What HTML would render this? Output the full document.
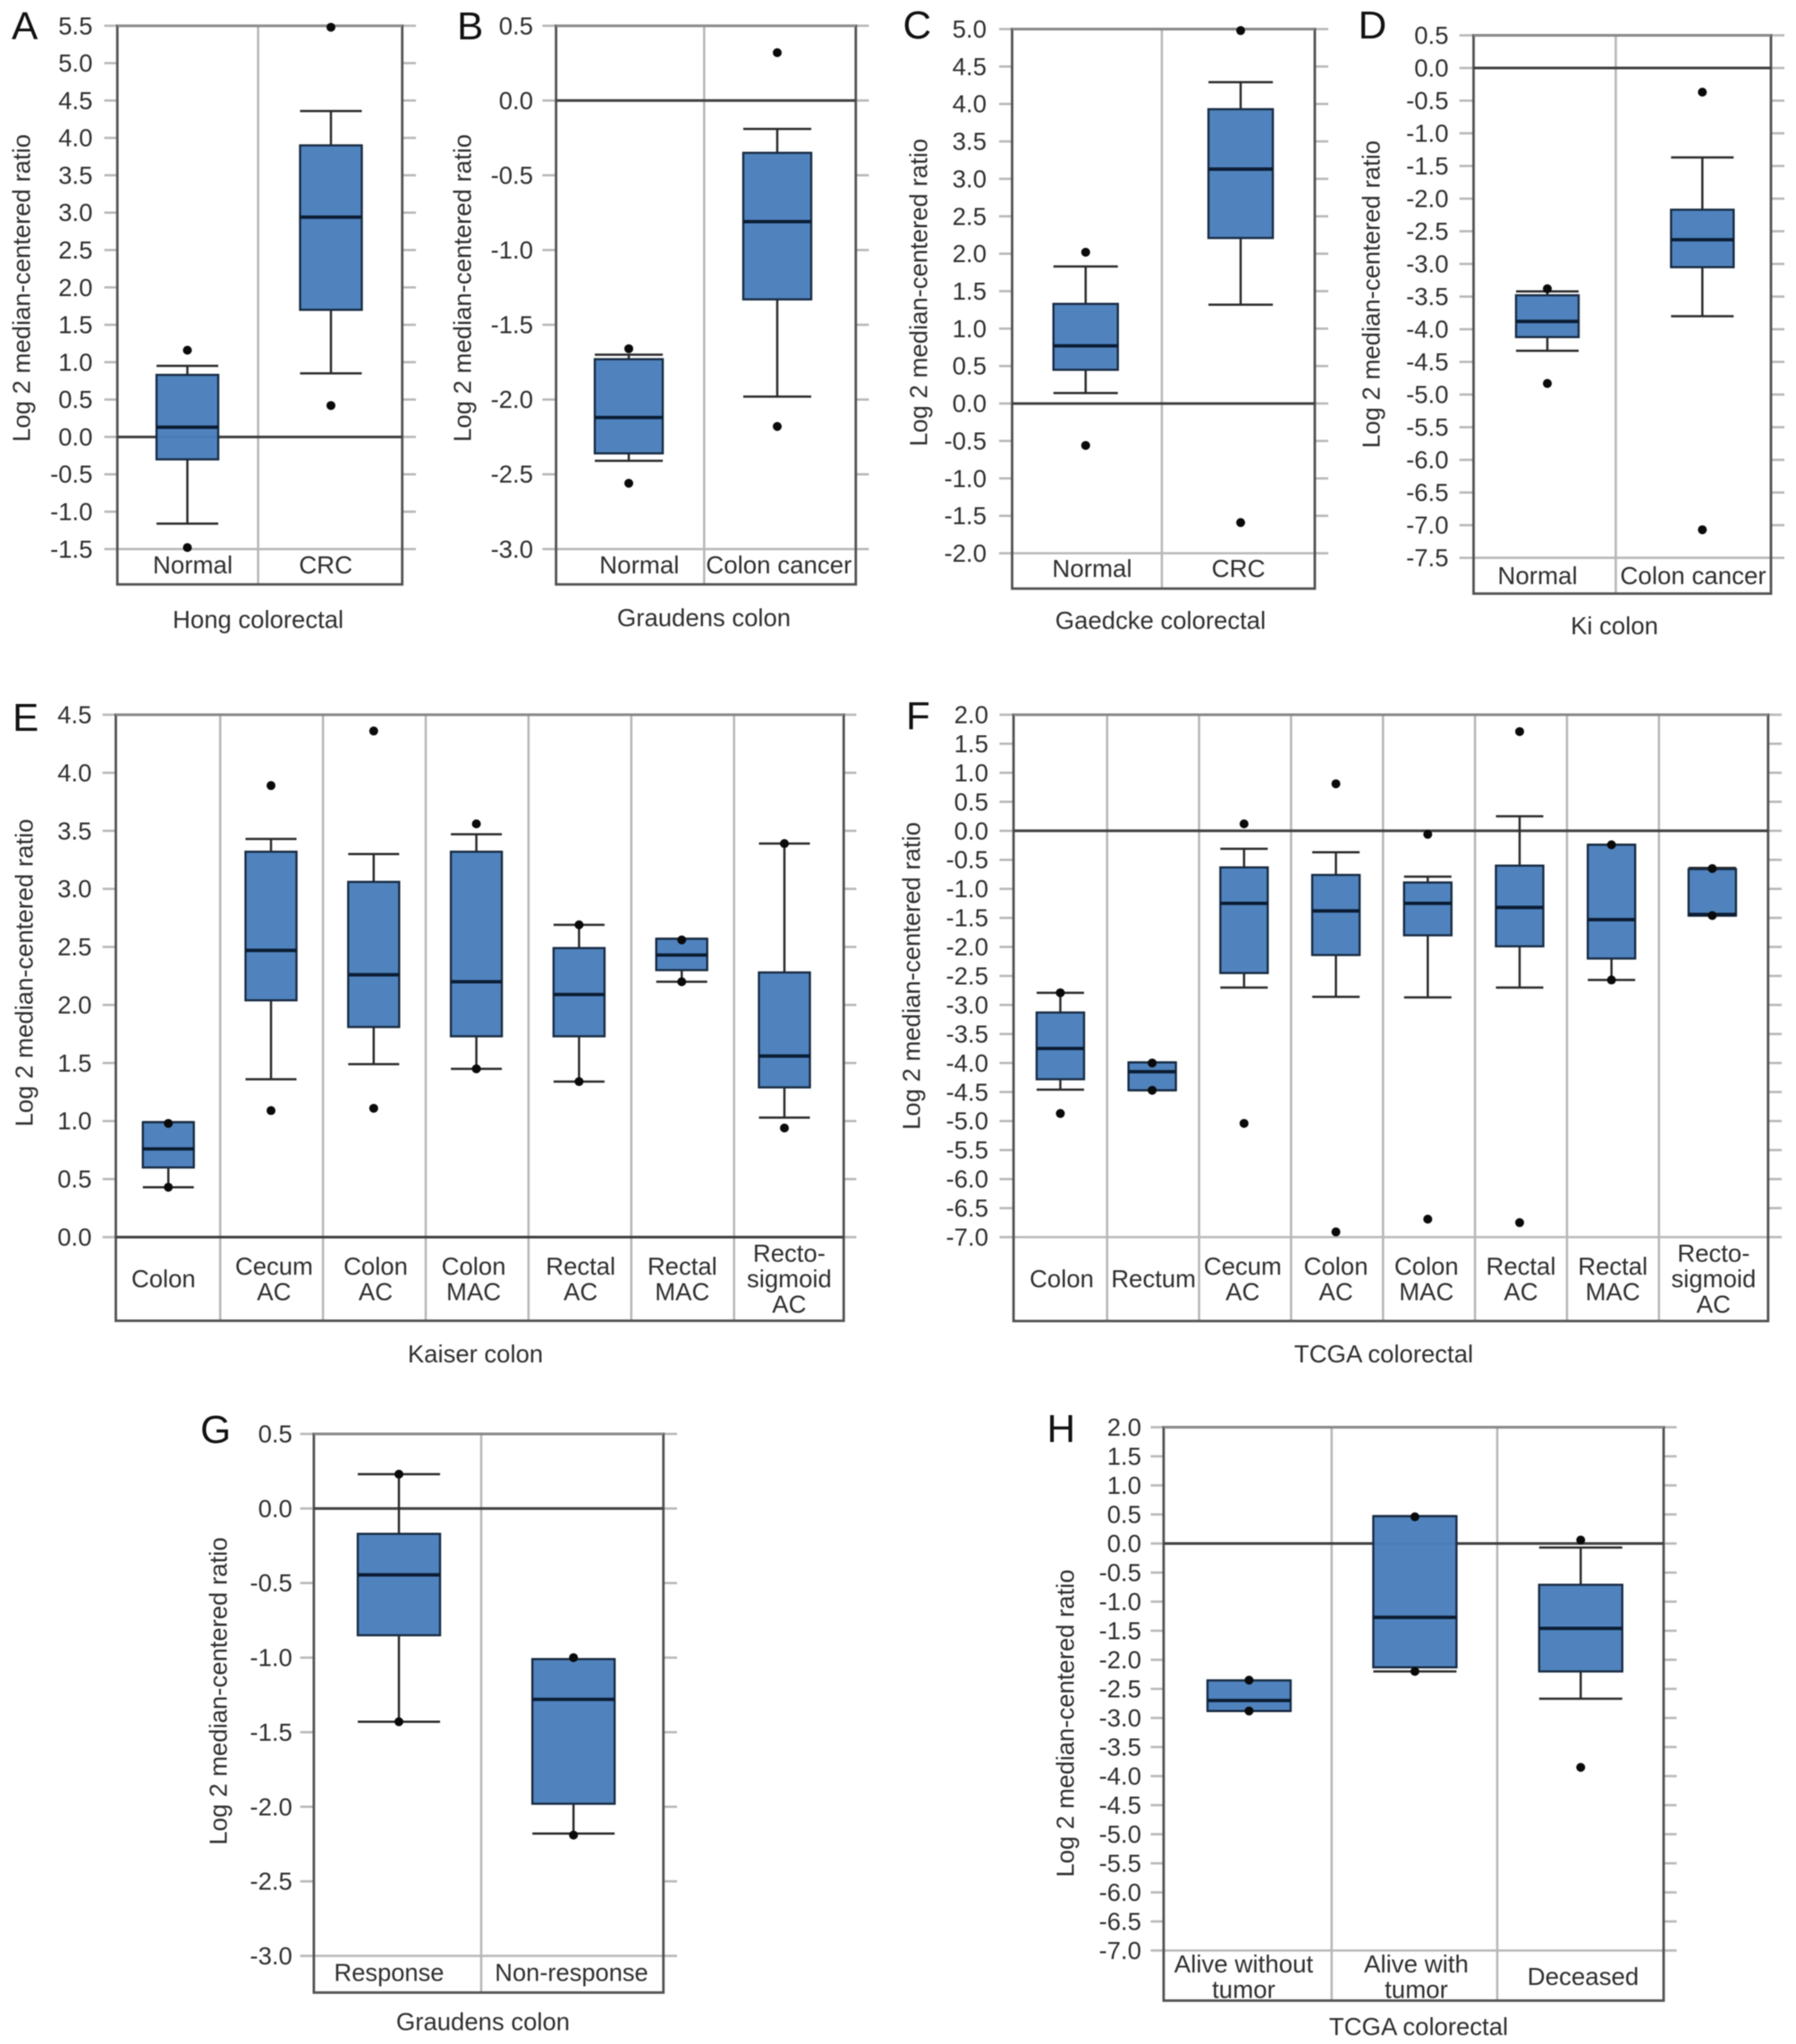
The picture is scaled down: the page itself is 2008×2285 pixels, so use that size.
<!DOCTYPE html>
<html lang="en">
<head>
<meta charset="utf-8">
<title>Log 2 median-centered ratio box plots</title>
<style>
html,body{margin:0;padding:0;background:#fff;}
#figure{display:block;width:2008px;height:2285px;background:#fff;font-family:"Liberation Sans",Arial,sans-serif;filter:blur(0.5px);}
</style>
</head>
<body>
<svg id="figure" xmlns="http://www.w3.org/2000/svg" width="2008" height="2285" viewBox="0 0 2008 2285"></svg>
<script>
// ---------- Panel A ----------
const panelACategories = [['Normal'], ['CRC']];
const panelATicks = ['5.5','5.0','4.5','4.0','3.5','3.0','2.5','2.0','1.5','1.0','0.5','0.0','-0.5','-1.0','-1.5'];
const panelAWhiskerHigh = [0.95, 4.36];
const panelAQ3 = [0.83, 3.90];
const panelAMedian = [0.13, 2.94];
const panelAQ1 = [-0.30, 1.70];
const panelAWhiskerLow = [-1.16, 0.85];
const panelAOutlierHigh = [1.16, 5.48];
const panelAOutlierLow = [-1.48, 0.42];
// ---------- Panel B ----------
const panelBCategories = [['Normal'], ['Colon cancer']];
const panelBTicks = ['0.5','0.0','-0.5','-1.0','-1.5','-2.0','-2.5','-3.0'];
const panelBWhiskerHigh = [-1.70, -0.19];
const panelBQ3 = [-1.73, -0.35];
const panelBMedian = [-2.12, -0.81];
const panelBQ1 = [-2.36, -1.33];
const panelBWhiskerLow = [-2.41, -1.98];
const panelBOutlierHigh = [-1.66, 0.32];
const panelBOutlierLow = [-2.56, -2.18];
// ---------- Panel C ----------
const panelCCategories = [['Normal'], ['CRC']];
const panelCTicks = ['5.0','4.5','4.0','3.5','3.0','2.5','2.0','1.5','1.0','0.5','0.0','-0.5','-1.0','-1.5','-2.0'];
const panelCWhiskerHigh = [1.83, 4.29];
const panelCQ3 = [1.33, 3.93];
const panelCMedian = [0.77, 3.13];
const panelCQ1 = [0.45, 2.21];
const panelCWhiskerLow = [0.14, 1.32];
const panelCOutlierHigh = [2.02, 4.98];
const panelCOutlierLow = [-0.56, -1.59];
// ---------- Panel D ----------
const panelDCategories = [['Normal'], ['Colon cancer']];
const panelDTicks = ['0.5','0.0','-0.5','-1.0','-1.5','-2.0','-2.5','-3.0','-3.5','-4.0','-4.5','-5.0','-5.5','-6.0','-6.5','-7.0','-7.5'];
const panelDWhiskerHigh = [-3.42, -1.37];
const panelDQ3 = [-3.48, -2.17];
const panelDMedian = [-3.88, -2.63];
const panelDQ1 = [-4.12, -3.05];
const panelDWhiskerLow = [-4.33, -3.80];
const panelDOutlierHigh = [-3.38, -0.37];
const panelDOutlierLow = [-4.83, -7.07];
// ---------- Panel E ----------
const panelECategories = [['Colon'], ['Cecum','AC'], ['Colon','AC'], ['Colon','MAC'], ['Rectal','AC'], ['Rectal','MAC'], ['Recto-','sigmoid','AC']];
const panelETicks = ['4.5','4.0','3.5','3.0','2.5','2.0','1.5','1.0','0.5','0.0'];
const panelEWhiskerHigh = [0.99, 3.43, 3.30, 3.47, 2.69, 2.57, 3.39];
const panelEQ3 = [0.99, 3.32, 3.06, 3.32, 2.49, 2.57, 2.28];
const panelEMedian = [0.76, 2.47, 2.26, 2.20, 2.09, 2.43, 1.56];
const panelEQ1 = [0.60, 2.04, 1.81, 1.73, 1.73, 2.30, 1.29];
const panelEWhiskerLow = [0.43, 1.36, 1.49, 1.45, 1.34, 2.20, 1.03];
const panelEOutlierHigh = [0.98, 3.89, 4.36, 3.56, 2.69, 2.56, 3.39];
const panelEOutlierLow = [0.43, 1.09, 1.11, 1.45, 1.34, 2.20, 0.94];
// ---------- Panel F ----------
const panelFCategories = [['Colon'], ['Rectum'], ['Cecum','AC'], ['Colon','AC'], ['Colon','MAC'], ['Rectal','AC'], ['Rectal','MAC'], ['Recto-','sigmoid','AC']];
const panelFTicks = ['2.0','1.5','1.0','0.5','0.0','-0.5','-1.0','-1.5','-2.0','-2.5','-3.0','-3.5','-4.0','-4.5','-5.0','-5.5','-6.0','-6.5','-7.0'];
const panelFWhiskerHigh = [-2.79, -3.99, -0.31, -0.37, -0.79, 0.25, -0.24, -0.64];
const panelFQ3 = [-3.13, -3.99, -0.63, -0.76, -0.89, -0.60, -0.24, -0.66];
const panelFMedian = [-3.75, -4.15, -1.25, -1.38, -1.25, -1.32, -1.53, -1.44];
const panelFQ1 = [-4.28, -4.47, -2.45, -2.14, -1.80, -1.99, -2.20, -1.46];
const panelFWhiskerLow = [-4.46, -4.47, -2.70, -2.86, -2.87, -2.70, -2.57, -1.46];
const panelFOutlierHigh = [-2.79, -4.00, 0.12, 0.81, -0.06, 1.71, -0.24, -0.65];
const panelFOutlierLow = [-4.87, -4.47, -5.04, -6.91, -6.69, -6.75, -2.57, -1.46];
// ---------- Panel G ----------
const panelGCategories = [['Response'], ['Non-response']];
const panelGTicks = ['0.5','0.0','-0.5','-1.0','-1.5','-2.0','-2.5','-3.0'];
const panelGWhiskerHigh = [0.23, -1.01];
const panelGQ3 = [-0.17, -1.01];
const panelGMedian = [-0.445, -1.28];
const panelGQ1 = [-0.85, -1.98];
const panelGWhiskerLow = [-1.43, -2.18];
const panelGOutlierHigh = [0.23, -1.00];
const panelGOutlierLow = [-1.43, -2.19];
// ---------- Panel H ----------
const panelHCategories = [['Alive without','tumor'], ['Alive with','tumor'], ['Deceased']];
const panelHTicks = ['2.0','1.5','1.0','0.5','0.0','-0.5','-1.0','-1.5','-2.0','-2.5','-3.0','-3.5','-4.0','-4.5','-5.0','-5.5','-6.0','-6.5','-7.0'];
const panelHWhiskerHigh = [-2.355, 0.47, -0.07];
const panelHQ3 = [-2.355, 0.47, -0.71];
const panelHMedian = [-2.70, -1.27, -1.46];
const panelHQ1 = [-2.88, -2.13, -2.20];
const panelHWhiskerLow = [-2.88, -2.20, -2.67];
const panelHOutlierHigh = [-2.35, 0.46, 0.06];
const panelHOutlierLow = [-2.88, -2.20, -3.85];

const yAxisTitleText = 'Log 2 median-centered ratio';

const panels = [
  { letter:'A', dataset:'Hong colorectal', cats:panelACategories, ticks:panelATicks, hi:panelAWhiskerHigh, q3:panelAQ3, med:panelAMedian, q1:panelAQ1, lo:panelAWhiskerLow, outHi:panelAOutlierHigh, outLo:panelAOutlierLow,
    left:131.2, right:449.7, top:28.8, tickBottom:613.8, bottom:653.3, tickFrom:116.6, tickTo:465, labelRight:103.5,
    divStart:288.6, divStep:157.4, xStart:209.5, xStep:160.5, xNudgeLast:0, boxW:69,
    catStart:215.5, catStep:148.7, catShift:{}, catBase:641, catSize:27.7,
    titleX:24, titleY:322, dsX:288.6, dsBase:702, letterX:13, letterBase:44 },
  { letter:'B', dataset:'Graudens colon', cats:panelBCategories, ticks:panelBTicks, hi:panelBWhiskerHigh, q3:panelBQ3, med:panelBMedian, q1:panelBQ1, lo:panelBWhiskerLow, outHi:panelBOutlierHigh, outLo:panelBOutlierLow,
    left:621.7, right:956.8, top:28.8, tickBottom:613.8, bottom:653.3, tickFrom:606.4, tickTo:971.4, labelRight:596,
    divStart:787.3, divStep:165.6, xStart:703, xStep:166, xNudgeLast:0, boxW:76,
    catStart:714.8, catStep:156, catShift:{}, catBase:641, catSize:27.7,
    titleX:517, titleY:322, dsX:787, dsBase:700, letterX:511, letterBase:44 },
  { letter:'C', dataset:'Gaedcke colorectal', cats:panelCCategories, ticks:panelCTicks, hi:panelCWhiskerHigh, q3:panelCQ3, med:panelCMedian, q1:panelCQ1, lo:panelCWhiskerLow, outHi:panelCOutlierHigh, outLo:panelCOutlierLow,
    left:1131.6, right:1470, top:32.5, tickBottom:618.5, bottom:658, tickFrom:1117, tickTo:1485, labelRight:1103,
    divStart:1299, divStep:167.4, xStart:1213.8, xStep:173.3, xNudgeLast:0, boxW:72,
    catStart:1221, catStep:163.6, catShift:{}, catBase:645, catSize:27.7,
    titleX:1027, titleY:327, dsX:1297.5, dsBase:703, letterX:1009.5, letterBase:43 },
  { letter:'D', dataset:'Ki colon', cats:panelDCategories, ticks:panelDTicks, hi:panelDWhiskerHigh, q3:panelDQ3, med:panelDMedian, q1:panelDQ1, lo:panelDWhiskerLow, outHi:panelDOutlierHigh, outLo:panelDOutlierLow,
    left:1647.5, right:1980, top:39.5, tickBottom:623.6, bottom:663.6, tickFrom:1631.7, tickTo:1995, labelRight:1619.5,
    divStart:1806.5, divStep:159, xStart:1730, xStep:173.3, xNudgeLast:0, boxW:70,
    catStart:1719, catStep:174, catShift:{}, catBase:653, catSize:27.7,
    titleX:1533, titleY:329, dsX:1805, dsBase:709, letterX:1518.5, letterBase:43 },
  { letter:'E', dataset:'Kaiser colon', cats:panelECategories, ticks:panelETicks, hi:panelEWhiskerHigh, q3:panelEQ3, med:panelEMedian, q1:panelEQ1, lo:panelEWhiskerLow, outHi:panelEOutlierHigh, outLo:panelEOutlierLow,
    left:129.5, right:943.3, top:799, tickBottom:1383, bottom:1476.5, tickFrom:114.7, tickTo:957.4, labelRight:102.5,
    divStart:246.2, divStep:114.9, xStart:188.2, xStep:114.8, xNudgeLast:0, boxW:57,
    catStart:182.8, catStep:116.6, catShift:{1:7, 2:4, 3:-3, 5:-3}, catBase:1439, catSize:27.5,
    titleX:26.8, titleY:1087.5, dsX:531.5, dsBase:1523, letterX:14, letterBase:817 },
  { letter:'F', dataset:'TCGA colorectal', cats:panelFCategories, ticks:panelFTicks, hi:panelFWhiskerHigh, q3:panelFQ3, med:panelFMedian, q1:panelFQ1, lo:panelFWhiskerLow, outHi:panelFOutlierHigh, outLo:panelFOutlierLow,
    left:1133.2, right:1976.8, top:799, tickBottom:1383, bottom:1476.8, tickFrom:1117.5, tickTo:1992, labelRight:1105,
    divStart:1237.8, divStep:102.83, xStart:1185.5, xStep:102.7, xNudgeLast:10, boxW:53,
    catStart:1187, catStep:102.7, catShift:{2:-3, 3:-1.5, 4:-3, 7:10}, catBase:1439, catSize:27.5,
    titleX:1019, titleY:1091, dsX:1547, dsBase:1523, letterX:1013, letterBase:815 },
  { letter:'G', dataset:'Graudens colon', cats:panelGCategories, ticks:panelGTicks, hi:panelGWhiskerHigh, q3:panelGQ3, med:panelGMedian, q1:panelGQ1, lo:panelGWhiskerLow, outHi:panelGOutlierHigh, outLo:panelGOutlierLow,
    left:350.9, right:741.7, top:1603, tickBottom:2186.5, bottom:2227.5, tickFrom:335.6, tickTo:757, labelRight:326.8,
    divStart:538, divStep:190, xStart:446, xStep:195.2, xNudgeLast:0, boxW:92,
    catStart:435, catStep:204, catShift:{}, catBase:2214.5, catSize:27.3,
    titleX:244, titleY:1890.5, dsX:540, dsBase:2269.5, letterX:224, letterBase:1613 },
  { letter:'H', dataset:'TCGA colorectal', cats:panelHCategories, ticks:panelHTicks, hi:panelHWhiskerHigh, q3:panelHQ3, med:panelHMedian, q1:panelHQ1, lo:panelHWhiskerLow, outHi:panelHOutlierHigh, outLo:panelHOutlierLow,
    left:1301, right:1860, top:1595.5, tickBottom:2180.5, bottom:2236.5, tickFrom:1286.5, tickTo:1874.6, labelRight:1276,
    divStart:1488.8, divStep:185.2, xStart:1396.5, xStep:185.4, xNudgeLast:0, boxW:93,
    catStart:1390.5, catStep:189, catShift:{1:4, 2:1.5}, catBase:2219, catSize:27.7,
    titleX:1191, titleY:1926.5, dsX:1586, dsBase:2275, letterX:1170.5, letterBase:1612 }
];

const SVG_NS = 'http://www.w3.org/2000/svg';
const root = document.getElementById('figure');
const TEXT_COLOR = '#2f2f2f';
const GRID_COLOR = '#b8b8b8';
const FRAME_COLOR = '#525252';
const BOX_FILL = '#4a7fbc';
const BOX_EDGE = '#182b42';
const INK = '#2a2a2a';

function shape(parent, tag, attrs) {
  const node = document.createElementNS(SVG_NS, tag);
  for (const key in attrs) {
    node.setAttribute(key, attrs[key]);
  }
  parent.appendChild(node);
  return node;
}

function drawPanel(p) {
  const tickValues = p.ticks.map(Number);
  const vMax = tickValues[0];
  const vMin = tickValues[tickValues.length - 1];
  const yScale = function (v) {
    return p.top + (vMax - v) / (vMax - vMin) * (p.tickBottom - p.top);
  };
  const count = p.cats.length;
  const xScale = function (i) {
    return p.xStart + i * p.xStep + (i === count - 1 ? p.xNudgeLast : 0);
  };
  const labelX = function (i) {
    return p.catStart + i * p.catStep + (p.catShift[i] || 0);
  };

  const group = shape(root, 'g', {});
  
  

  const letter = shape(group, 'text', { x: p.letterX, y: p.letterBase, 'font-size': 44, fill: '#111' });
  letter.textContent = p.letter;
  
  

  // horizontal ticks
  p.ticks.forEach(function (label, i) {
    const v = tickValues[i];
    const y = yScale(v);
    const edge = (i === 0 || i === p.ticks.length - 1);

    const leftTick = shape(group, 'line', { x1: p.tickFrom, x2: p.left, y1: y, y2: y, stroke: GRID_COLOR, 'stroke-width': 2.6 });
    
    

    const rightTick = shape(group, 'line', { x1: p.right, x2: p.tickTo, y1: y, y2: y, stroke: GRID_COLOR, 'stroke-width': 2.6 });
    
    

    if (edge && v !== 0) {
      const edgeLine = shape(group, 'line', { x1: p.left, x2: p.right, y1: y, y2: y, stroke: GRID_COLOR, 'stroke-width': 2.6 });
      
      
    }

    const tickText = shape(group, 'text', { x: p.labelRight, y: y + 9.5, 'font-size': 27.5, 'text-anchor': 'end', fill: TEXT_COLOR });
    tickText.textContent = label;
    
    
  });

  // category dividers
  for (let d = 0; d < count - 1; d++) {
    const dx = p.divStart + d * p.divStep;
    const divider = shape(group, 'line', { x1: dx, x2: dx, y1: p.top, y2: p.bottom, stroke: GRID_COLOR, 'stroke-width': 2.6 });
    
    
  }

  // frame
  const frame = shape(group, 'rect', { x: p.left, y: p.top, width: p.right - p.left, height: p.bottom - p.top, fill: 'none', stroke: FRAME_COLOR, 'stroke-width': 2.8 });
  
  

  // top line lighter, on top of frame
  const topLine = shape(group, 'line', { x1: p.left, x2: p.right, y1: p.top, y2: p.top, stroke: '#8c8c8c', 'stroke-width': 2.6 });
  
  

  // zero reference line
  if (vMax >= 0 && vMin <= 0) {
    const zero = shape(group, 'line', { x1: p.left, x2: p.right, y1: yScale(0), y2: yScale(0), stroke: '#404040', 'stroke-width': 3 });
    
    
  }

  // boxes
  p.cats.forEach(function (lines, i) {
    const cx = xScale(i);
    const half = p.boxW / 2;
    const yHi = yScale(p.hi[i]);
    const yLo = yScale(p.lo[i]);
    const yQ3 = yScale(p.q3[i]);
    const yQ1 = yScale(p.q1[i]);
    const yMed = yScale(p.med[i]);

    const upper = shape(group, 'line', { x1: cx, x2: cx, y1: yHi, y2: yQ3, stroke: INK, 'stroke-width': 2.5 });
    
    

    const lower = shape(group, 'line', { x1: cx, x2: cx, y1: yQ1, y2: yLo, stroke: INK, 'stroke-width': 2.5 });
    
    

    const capHi = shape(group, 'line', { x1: cx - half, x2: cx + half, y1: yHi, y2: yHi, stroke: INK, 'stroke-width': 2.5 });
    
    

    const capLo = shape(group, 'line', { x1: cx - half, x2: cx + half, y1: yLo, y2: yLo, stroke: INK, 'stroke-width': 2.5 });
    
    

    const box = shape(group, 'rect', { x: cx - half, y: yQ3, width: p.boxW, height: yQ1 - yQ3, fill: BOX_FILL, 'fill-opacity': 0.97, stroke: BOX_EDGE, 'stroke-width': 2.4 });
    
    

    const median = shape(group, 'line', { x1: cx - half, x2: cx + half, y1: yMed, y2: yMed, stroke: '#0b1d33', 'stroke-width': 3.8 });
    
    

    const dotHi = shape(group, 'circle', { cx: cx, cy: yScale(p.outHi[i]), r: 5, fill: '#0a0a0a' });
    
    

    const dotLo = shape(group, 'circle', { cx: cx, cy: yScale(p.outLo[i]), r: 5, fill: '#0a0a0a' });
    
    

    // category label
    const lineHeight = 28.5;
    lines.forEach(function (line, k) {
      const base = p.catBase + (k - (lines.length - 1) / 2) * lineHeight;
      const cat = shape(group, 'text', { x: labelX(i), y: base, 'font-size': p.catSize, 'text-anchor': 'middle', fill: TEXT_COLOR });
      cat.textContent = line;
      
      
    });
  });

  // y-axis title
  const yTitle = shape(group, 'text', {
    transform: 'translate(' + (p.titleX + 9.5) + ',' + p.titleY + ') rotate(-90)',
    'font-size': 27.5, 'text-anchor': 'middle', fill: TEXT_COLOR,
    textLength: 344, lengthAdjust: 'spacingAndGlyphs'
  });
  yTitle.textContent = yAxisTitleText;
  
  

  // dataset title
  const ds = shape(group, 'text', { x: p.dsX, y: p.dsBase, 'font-size': 27.5, 'text-anchor': 'middle', fill: TEXT_COLOR });
  ds.textContent = p.dataset;
  
  
}

panels.forEach(drawPanel);
</script>
</body>
</html>
